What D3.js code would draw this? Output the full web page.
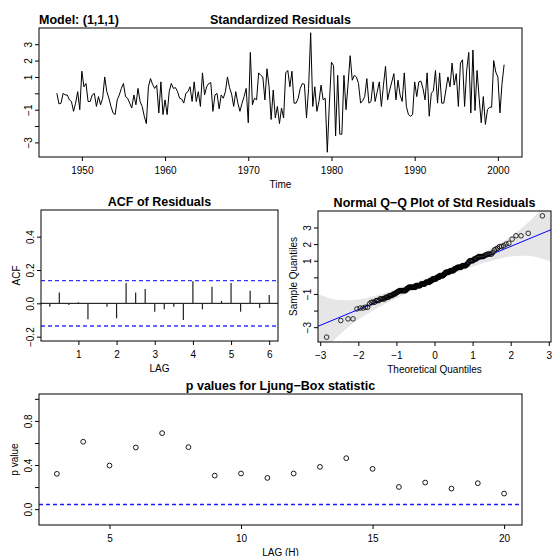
<!DOCTYPE html>
<html>
<head>
<meta charset="utf-8">
<script src="https://d3js.org/d3.v7.min.js"></script>
<style>
  body { margin: 0; background: #fff; }
  svg text { font-family: "Liberation Sans", Arial, Helvetica, sans-serif; fill: #000; }
</style>
</head>
<body>
<svg width="554" height="556"></svg>
<script>
// standardized residuals, quarterly, first value 1947 Q1
const resStart = 1947, resFreq = 4;
const residuals = [
  0.0, -0.65, -0.6, 0.0, -0.1, -0.1, -0.4, -0.5, -1.1, -0.6, 0.1, -1.0, 1.35,
  0.4, 0.6, -0.5, -0.5, -0.1, 0.0, -0.8, -0.2, -0.7, -0.3, 1.0, 0.1, -0.3, -0.8, -1.2, -1.3,
  -0.4, -0.1, 0.3, 0.6, -0.2, -0.3, -0.6, -0.9, -0.1, -0.7, 0.3, -0.5, -0.8, -1.4, -1.85,
  0.4, 0.9, 0.55, 0.3, 0.5, -1.2, 0.7, -1.3, -0.4, -1.3, 0.1, 0.6, 0.3, 0.35, 0.1, -0.3,
  -0.35, -0.6, 0.0, 0.1, 0.4, -0.5, 0.7, -0.5, 0.1, -0.8, 1.25, -0.1, 0.4, 0.6, 0.65, -1.1,
  -0.1, 0.0, -0.95, -0.1, -0.3, 0.1, 1.0, 0.35, -0.05, -0.8, 0.1, -0.6, -1.1, -0.6, -0.2, 0.3, -1.8,
  2.5, -0.7, -0.3, -0.4, 1.25, 1.1, 1.0, -0.4, 1.5, 0.4, -1.6, 0.2, -1.5, -0.8, -1.85,
  -0.9, -1.5, 1.25, 1.4, 0.4, 1.35, -0.6, -0.6, -0.3, 0.3, 0.6, 0.55, -1.5, 0.3, 3.7,
  -0.8, 0.4, -1.1, -0.5, 0.5, -0.4, -0.3, -3.6, -0.6, 1.9, 1.7, -2.6, 1.1, -2.5, -2.5, 1.1, -1.0, 0.6, 2.3,
  0.8, 1.1, 1.0, 0.6, -0.6, -0.45, -0.2, 0.9,
  -0.6, -0.5, 0.7, -0.5, 0.1, 0.7, -0.8, 0.5, 1.65,
  -0.4, 0.2, 0.7, 1.2, -0.4, 0.8, -0.1, -0.5, 1.25,
  -0.8, -1.3, -1.4, -1.3, 0.7,
  -0.2, 0.7, 0.75, 0.3, -0.4, 1.25,
  -1.4, 0.0, 0.15, 1.4,
  -0.6, 1.25,
  -0.6, -0.6, 0.2, 1.0, 0.4, 1.85,
  0.5, 1.2, -0.8, 1.85, 2.05, -0.8, 1.4, 2.5, -1.2, 2.65,
  -1.05, 1.4, -0.3, -1.8, -0.2, -1.9, -1.0, -0.85, -0.85, 2.0, 1.3, 1.0, -1.2, 0.6, 1.75
];

// ACF of residuals (lag in years)
const acfLags = [0.25, 0.5, 0.75, 1, 1.25, 1.5, 1.75, 2, 2.25, 2.5, 2.75, 3,
                 3.25, 3.5, 3.75, 4, 4.25, 4.5, 4.75, 5, 5.25, 5.5, 5.75, 6];
const acfValues = [-0.02, 0.065, -0.01, 0.006, -0.095, -0.003, -0.02, -0.09, 0.122, 0.065, 0.086, -0.05,
                   -0.035, -0.02, -0.1, 0.132, -0.036, 0.1, 0.015, 0.122, -0.05, 0.076, -0.028, 0.05];
const acfBound = 0.136;

// Q-Q reference line and grey band half widths
const qqIntercept = -0.04, qqSlope = 0.95;
const qqBandZ = [-3.1, -2.75, -2.5, -2.25, -2, -1.5, -1, -0.5, 0, 0.5, 1, 1.5, 2, 2.25, 2.5, 2.75, 3.1];
const qqBandHalf = [2.0, 1.4, 1.05, 0.8, 0.6, 0.38, 0.27, 0.21, 0.2, 0.21, 0.27, 0.38, 0.6, 0.8, 1.05, 1.4, 2.0];

// Ljung-Box p values
const lbLags = [3, 4, 5, 6, 7, 8, 9, 10, 11, 12, 13, 14, 15, 16, 17, 18, 19, 20];
const lbPValues = [0.32, 0.611, 0.395, 0.559, 0.689, 0.562, 0.304, 0.323, 0.283, 0.323,
                   0.383, 0.462, 0.365, 0.201, 0.241, 0.186, 0.235, 0.141];
const lbLevel = 0.05;

// tick values
const yearTicks = [1950, 1960, 1970, 1980, 1990, 2000];
const resTicks = [-3, -2, -1, 0, 1, 2, 3], resLabeled = [-3, -1, 1, 2, 3];
const acfXTicks = [1, 2, 3, 4, 5, 6], acfYTicks = [-0.2, 0, 0.2, 0.4];
const qqXTicks = [-3, -2, -1, 0, 1, 2, 3];
const lbXTicks = [5, 10, 15, 20], lbYTicks = [0, 0.2, 0.4, 0.6, 0.8, 1], lbYLabeled = [0, 0.4, 0.8];

const svg = d3.select("svg");
const tickSize = 10, titleSize = 12.5;

// R style 4% padded range
function padded(lo, hi) { const e = (hi - lo) * 0.04; return [lo - e, hi + e]; }

// inverse normal cdf (Acklam)
function qnorm(p) {
  const a = [-39.6968302866538, 220.946098424521, -275.928510446969, 138.357751867269, -30.6647980661472, 2.50662827745924];
  const b = [-54.4760987982241, 161.585836858041, -155.698979859887, 66.8013118877197, -13.2806815528857];
  const c = [-0.00778489400243029, -0.322396458041136, -2.40075827716184, -2.54973253934373, 4.37466414146497, 2.93816398269878];
  const d = [0.00778469570904146, 0.32246712907004, 2.445134137143, 3.75440866190742];
  const pl = 0.02425;
  let q, r;
  if (p < pl) {
    q = Math.sqrt(-2 * Math.log(p));
    return (((((c[0]*q+c[1])*q+c[2])*q+c[3])*q+c[4])*q+c[5]) / ((((d[0]*q+d[1])*q+d[2])*q+d[3])*q+1);
  } else if (p <= 1 - pl) {
    q = p - 0.5; r = q * q;
    return (((((a[0]*r+a[1])*r+a[2])*r+a[3])*r+a[4])*r+a[5])*q / (((((b[0]*r+b[1])*r+b[2])*r+b[3])*r+b[4])*r+1);
  }
  q = Math.sqrt(-2 * Math.log(1 - p));
  return -(((((c[0]*q+c[1])*q+c[2])*q+c[3])*q+c[4])*q+c[5]) / ((((d[0]*q+d[1])*q+d[2])*q+d[3])*q+1);
}

// box, ticks and labels for one panel
function frame(x, y, opt) {
  const [x0, x1] = x.range(), [y0, y1] = y.range();
  const g = svg.append("g");
  const xa = g.append("g").attr("transform", `translate(0,${y0})`)
    .call(d3.axisBottom(x).tickValues(opt.xTicks).tickFormat(opt.xFmt).tickSize(4).tickPadding(5.5));
  const ya = g.append("g").attr("transform", `translate(${x0},0)`)
    .call(d3.axisLeft(y).tickValues(opt.yTicks).tickFormat(opt.yFmt).tickSize(4));
  [xa, ya].forEach(a => {
    a.select(".domain").remove();
    a.attr("font-family", null).attr("font-size", tickSize);
    a.selectAll("line").attr("stroke", "#000");
    a.selectAll("text").attr("fill", "#000");
  });
  ya.selectAll("text").attr("x", 0).attr("y", -7).attr("dy", null)
    .attr("text-anchor", "middle").attr("transform", "rotate(-90)");
  g.append("rect").attr("x", x0).attr("y", y1).attr("width", x1 - x0).attr("height", y0 - y1)
    .attr("fill", "none").attr("stroke", "#000").attr("stroke-width", 1);
  g.append("text").attr("x", (x0 + x1) / 2).attr("y", y1 - 4).attr("text-anchor", "middle")
    .attr("font-size", titleSize).attr("font-weight", "bold").text(opt.title);
  if (opt.xLabel) g.append("text").attr("x", (x0 + x1) / 2).attr("y", y0 + 30.5)
    .attr("text-anchor", "middle").attr("font-size", tickSize).text(opt.xLabel);
  if (opt.yLabel) g.append("text")
    .attr("transform", `translate(${x0 - 21.5},${(y0 + y1) / 2}) rotate(-90)`)
    .attr("text-anchor", "middle").attr("font-size", tickSize).text(opt.yLabel);
  return g;
}

function clipTo(id, x, y) {
  const [x0, x1] = x.range(), [y0, y1] = y.range();
  svg.append("clipPath").attr("id", id).append("rect")
    .attr("x", x0).attr("y", y1).attr("width", x1 - x0).attr("height", y0 - y1);
}

// ---------- Standardized residuals ----------
const resTime = residuals.map((v, i) => resStart + i / resFreq);
const xT = d3.scaleLinear().domain(padded(d3.min(resTime), d3.max(resTime))).range([39, 522]);
const yT = d3.scaleLinear().domain(padded(d3.min(residuals), d3.max(residuals))).range([157, 28]);

svg.append("path")
  .datum(residuals)
  .attr("fill", "none").attr("stroke", "#000").attr("stroke-width", 1)
  .attr("stroke-linejoin", "round")
  .attr("d", d3.line().x((d, i) => xT(resTime[i])).y(d => yT(d)));

const gT = frame(xT, yT, {
  xTicks: yearTicks, xFmt: d3.format("d"),
  yTicks: resTicks, yFmt: d => resLabeled.includes(d) ? d3.format("d")(d) : "",
  title: "Standardized Residuals", xLabel: "Time"
});
gT.append("text").attr("x", 39).attr("y", 24).attr("font-size", titleSize)
  .attr("font-weight", "bold").text("Model: (1,1,1)");

// ---------- ACF of residuals ----------
const xA = d3.scaleLinear().domain(padded(d3.min(acfLags), d3.max(acfLags))).range([41, 278]);
const yA = d3.scaleLinear().domain([-0.226, 0.56]).range([341, 210]);

svg.append("line").attr("x1", xA.range()[0]).attr("x2", xA.range()[1])
  .attr("y1", yA(0)).attr("y2", yA(0)).attr("stroke", "#000");
svg.append("g").selectAll("line").data(acfValues).join("line")
  .attr("x1", (d, i) => xA(acfLags[i])).attr("x2", (d, i) => xA(acfLags[i]))
  .attr("y1", yA(0)).attr("y2", d => yA(d))
  .attr("stroke", "#222").attr("stroke-width", 1.2);
svg.append("g").selectAll("line").data([acfBound, -acfBound]).join("line")
  .attr("x1", xA.range()[0]).attr("x2", xA.range()[1])
  .attr("y1", d => yA(d)).attr("y2", d => yA(d))
  .attr("stroke", "#3333ff").attr("stroke-width", 1.3).attr("stroke-dasharray", "4,3");

frame(xA, yA, {
  xTicks: acfXTicks, xFmt: d3.format("d"),
  yTicks: acfYTicks, yFmt: d3.format(".1f"),
  title: "ACF of Residuals", xLabel: "LAG", yLabel: "ACF"
});

// ---------- Normal Q-Q plot ----------
const sorted = residuals.slice().sort(d3.ascending);
const nRes = sorted.length;
const theo = sorted.map((v, i) => qnorm((i + 0.5) / nRes));
const xQ = d3.scaleLinear().domain(padded(d3.min(theo), d3.max(theo))).range([318, 551]);
const yQ = d3.scaleLinear().domain(padded(d3.min(sorted), d3.max(sorted))).range([342, 211]);
clipTo("qqclip", xQ, yQ);

const qqFit = z => qqIntercept + qqSlope * z;
svg.append("path")
  .datum(qqBandZ)
  .attr("clip-path", "url(#qqclip)")
  .attr("fill", "#e6e6e6")
  .attr("d", d3.area().curve(d3.curveMonotoneX)
    .x(z => xQ(z))
    .y0((z, i) => yQ(qqFit(z) - qqBandHalf[i]))
    .y1((z, i) => yQ(qqFit(z) + qqBandHalf[i])));
svg.append("path")
  .datum(xQ.domain())
  .attr("clip-path", "url(#qqclip)")
  .attr("fill", "none").attr("stroke", "#0000ff").attr("stroke-width", 1)
  .attr("d", d3.line().x(z => xQ(z)).y(z => yQ(qqFit(z))));
svg.append("g").selectAll("circle").data(sorted).join("circle")
  .attr("cx", (d, i) => xQ(theo[i])).attr("cy", d => yQ(d)).attr("r", 2.3)
  .attr("fill", "none").attr("stroke", "#000").attr("stroke-width", 0.8);

frame(xQ, yQ, {
  xTicks: qqXTicks, xFmt: d3.format("d"),
  yTicks: resTicks, yFmt: d => resLabeled.includes(d) ? d3.format("d")(d) : "",
  title: "Normal Q\u2212Q Plot of Std Residuals", xLabel: "Theoretical Quantiles", yLabel: "Sample Quantiles"
});

// ---------- Ljung-Box p values ----------
const xP = d3.scaleLinear().domain(padded(d3.min(lbLags), d3.max(lbLags))).range([39, 522]);
const yP = d3.scaleLinear().domain(padded(-0.1, 1)).range([525, 394]);

svg.append("line").attr("x1", xP.range()[0]).attr("x2", xP.range()[1])
  .attr("y1", Math.round(yP(lbLevel)) + 0.5).attr("y2", Math.round(yP(lbLevel)) + 0.5)
  .attr("stroke", "#1a1aff").attr("stroke-width", 1.3).attr("stroke-dasharray", "4,3");
svg.append("g").selectAll("circle").data(lbPValues).join("circle")
  .attr("cx", (d, i) => xP(lbLags[i])).attr("cy", d => yP(d)).attr("r", 2.4)
  .attr("fill", "none").attr("stroke", "#000").attr("stroke-width", 0.9);

frame(xP, yP, {
  xTicks: lbXTicks, xFmt: d3.format("d"),
  yTicks: lbYTicks, yFmt: d => lbYLabeled.includes(d) ? d3.format(".1f")(d) : "",
  title: "p values for Ljung\u2212Box statistic", xLabel: "LAG (H)", yLabel: "p value"
});
</script>
</body>
</html>
